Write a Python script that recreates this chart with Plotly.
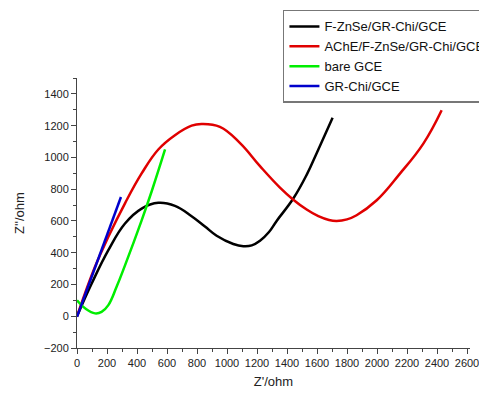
import plotly.graph_objects as go

# F-ZnSe/GR-Chi/GCE
black_x = [0, 98, 209, 320, 431, 542, 653, 764, 853, 931, 1042, 1109, 1165, 1220, 1280, 1331, 1442, 1531, 1609, 1704]
black_y = [0, 206, 416, 584, 678, 714, 695, 630, 565, 507, 455, 441, 446, 475, 530, 600, 741, 890, 1050, 1250]

# AChE/F-ZnSe/GR-Chi/GCE
red_x = [0, 120, 209, 320, 431, 542, 653, 764, 830, 953, 1087, 1220, 1353, 1442, 1531, 1609, 1680, 1731, 1800, 1864, 1998, 2153, 2309, 2431]
red_y = [0, 311, 500, 711, 899, 1050, 1140, 1200, 1210, 1192, 1090, 945, 810, 734, 672, 630, 606, 600, 610, 636, 730, 898, 1087, 1297]

# bare GCE
green_x = [0, 60, 120, 164, 209, 264, 320, 431, 498, 587]
green_y = [100, 45, 18, 27, 70, 185, 320, 604, 787, 1050]

# GR-Chi/GCE
blue_x = [0, 293]
blue_y = [-4, 751]

names = ["F-ZnSe/GR-Chi/GCE", "AChE/F-ZnSe/GR-Chi/GCE", "bare GCE", "GR-Chi/GCE"]
colors = ["#000000", "#e00000", "#00ee00", "#0000cc"]

x_ticks = list(range(0, 2601, 200))
y_ticks = list(range(-200, 1401, 200))

fig = go.Figure()
for xs, ys, nm, c in zip([black_x, red_x, green_x, blue_x],
                         [black_y, red_y, green_y, blue_y], names, colors):
    fig.add_trace(go.Scatter(x=xs, y=ys, mode="lines", name=nm,
                             line=dict(color=c, width=2.5, shape="spline", smoothing=1.2)))

axis_common = dict(showgrid=False, zeroline=False, showline=True, linecolor="#444",
                   linewidth=1, ticks="outside", ticklen=5, tickcolor="#444",
                   tickfont=dict(family="Liberation Sans, Arial", size=11, color="#222"),
                   minor=dict(ticks="outside", ticklen=3, tickcolor="#444", dtick=100))

fig.update_xaxes(range=[0, 2620], tickvals=x_ticks, **axis_common,
                 title=dict(text="Z'/ohm", font=dict(family="Liberation Sans, Arial", size=13, color="#222"),
                            standoff=8))
fig.update_yaxes(range=[-200, 1500], tickvals=y_ticks, **axis_common,
                 title=dict(text="Z''/ohm", font=dict(family="Liberation Sans, Arial", size=13, color="#222"),
                            standoff=16))

fig.update_layout(
    width=487, height=396,
    margin=dict(l=69, r=25, t=70, b=56, autoexpand=False),
    plot_bgcolor="white", paper_bgcolor="white",
    legend=dict(x=0.524, y=1.252, xanchor="left", yanchor="top",
                bordercolor="#777", borderwidth=1.5, bgcolor="white",
                font=dict(family="Liberation Sans, Arial", size=13, color="#111"),
                tracegroupgap=0, itemwidth=30),
)

fig.write_html("out.html")
